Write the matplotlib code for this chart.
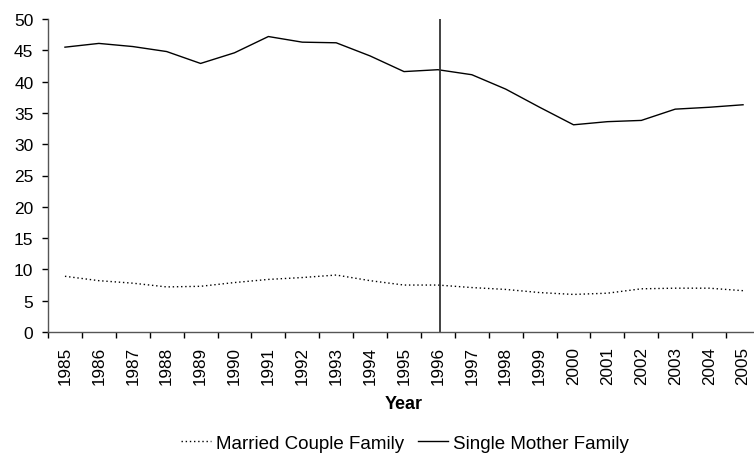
import matplotlib
matplotlib.use("Agg")
import matplotlib.pyplot as plt
import numpy as np

years = [str(y) for y in range(1985, 2006)]
married = [8.9, 8.2, 7.8, 7.2, 7.3, 7.9, 8.4, 8.7, 9.1, 8.2, 7.5, 7.5, 7.1, 6.8, 6.3, 6.0, 6.2, 6.9, 7.0, 7.0, 6.6]
single = [45.5, 46.1, 45.6, 44.8, 42.9, 44.6, 47.2, 46.3, 46.2, 44.1, 41.6, 41.9, 41.1, 38.8, 35.9, 33.1, 33.6, 33.8, 35.6, 35.9, 36.3]
yticks = list(range(0, 51, 5))
marker_year_index = 11.55

plt.rcParams['font.family'] = ['Liberation Sans', 'DejaVu Sans']

fig = plt.figure(figsize=(7.54, 4.56), dpi=100)
ax = fig.add_axes([48/754, 123/456, 712/754, 313/456])

x = np.arange(len(years)) + 0.5
ax.plot(x, married, color='black', linestyle=(0, (1, 2)), linewidth=1.0, label='Married Couple Family')
ax.plot(x, single, color='black', linestyle='-', linewidth=1.0, label='Single Mother Family')
ax.axvline(marker_year_index, ymin=0, ymax=1, color='#333333', linewidth=1.3)

ax.set_xlim(0, len(years))
ax.set_ylim(0, 50)
ax.set_yticks(yticks)
ax.set_yticklabels([str(t) for t in yticks], fontsize=12.5)
ax.set_xticks(np.arange(len(years) + 1))
ax.set_xticklabels([''] * (len(years) + 1))
ax.set_xticks(x, minor=True)
ax.set_xticklabels(years, minor=True, rotation=90, fontsize=12.3)
ax.tick_params(axis='x', which='minor', length=0, pad=10)
ax.tick_params(axis='x', which='major', length=4, direction='out', width=1)
ax.tick_params(axis='y', length=4, direction='out', width=1, pad=6.5)

for s in ['top', 'right']:
    ax.spines[s].set_visible(False)
for s in ['left', 'bottom']:
    ax.spines[s].set_color('#555555')
    ax.spines[s].set_linewidth(1.0)

ax.set_xlabel('Year', fontsize=13, fontweight='bold', labelpad=8)

fig.legend(loc='center', bbox_to_anchor=(405/754, 12/456), ncol=2, frameon=False,
           fontsize=13.5, handlelength=1.6, handletextpad=0.3, columnspacing=0.7,
           borderaxespad=0, borderpad=0)

fig.savefig('out.png', dpi=100)
